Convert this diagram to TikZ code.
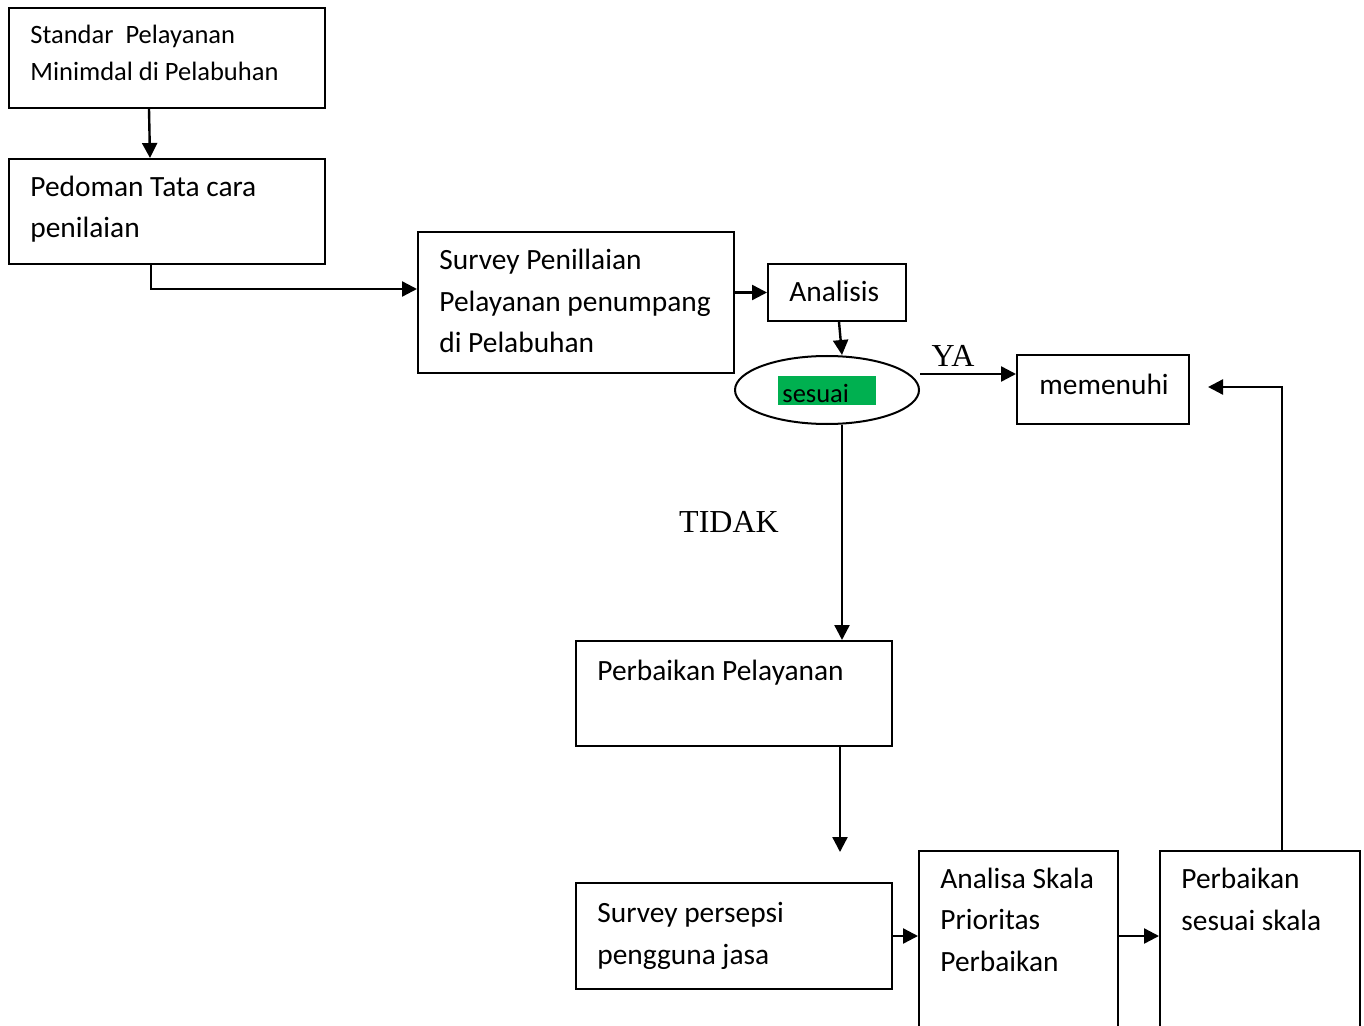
\documentclass[tikz,border=0pt]{standalone}
\usepackage{fontspec}
\setmainfont{Carlito}
\newfontfamily\timesf{Liberation Serif}
\usetikzlibrary{arrows.meta,shapes.geometric}
\definecolor{hl}{HTML}{00B050}
\tikzset{
  box/.style={draw, line width=1pt, inner sep=0pt},
  arr/.style={line width=1.2pt, -{Triangle[length=7.5pt,width=7.5pt]}},
  txt/.style={anchor=base west, align=left, inner sep=0pt, font=\fontsize{14.7}{20.75}\selectfont},
  txtsmall/.style={anchor=base west, align=left, inner sep=0pt, font=\fontsize{13.25}{18.5}\selectfont},
  lbl/.style={inner sep=0pt, font=\timesf\fontsize{16}{18}\selectfont}
}
\begin{document}
\begin{tikzpicture}[x=0.5pt,y=-0.5pt]
\useasboundingbox (0,0) rectangle (1364,1026);
\clip (0,0) rectangle (1364,1026);
% boxes
\node[box, minimum width=158pt, minimum height=50pt] (A) at (167,58) {};
\node[box, minimum width=158pt, minimum height=52.5pt] (B) at (167,211.5) {};
\node[box, minimum width=158pt, minimum height=70.5pt] (C) at (576,302.5) {};
\node[box, minimum width=69pt, minimum height=28.5pt] (D) at (837,292.5) {};
\node[box, ellipse, minimum width=92pt, minimum height=34pt] (E) at (827,390) {};
\node[box, minimum width=86pt, minimum height=34.5pt] (F) at (1103,389.5) {};
\node[box, minimum width=158pt, minimum height=52.5pt] (G) at (734,693.5) {};
\node[box, minimum width=158pt, minimum height=53pt] (H) at (734,936) {};
\node[box, minimum width=99.5pt, minimum height=94.5pt] (I) at (1018.5,945.5) {};
\node[box, minimum width=100pt, minimum height=94.5pt] (J) at (1260,945.5) {};
% texts (base anchor = baseline of last line)
\node[txtsmall] (tA) at (30,81) {Standar\ \ Pelayanan\\Minimdal di Pelabuhan};
\node[txt] (tB) at (30,238) {Pedoman Tata cara\\penilaian};
\node[txt] (tC) at (439,353) {Survey Penillaian\\Pelayanan penumpang\\di Pelabuhan};
\node[txt] (tD) at (789,302) {Analisis};
\node[fill=hl, anchor=north west, inner sep=0pt, minimum width=49pt, minimum height=14.5pt] (hlbox) at (778,376) {};
\node[txtsmall] (tE) at (782,402) {sesuai};
\node[txt] (tF) at (1039,394) {memenuhi};
\node[txt] (tG) at (597,680) {Perbaikan Pelayanan};
\node[txt] (tH) at (597,964) {Survey persepsi\\pengguna jasa};
\node[txt] (tI) at (940,971) {Analisa Skala\\Prioritas\\Perbaikan};
\node[txt] (tJ) at (1181,930) {Perbaikan\\sesuai skala};
\node[lbl] (ya) at (953,356) {YA};
\node[lbl] (tidak) at (729,522) {TIDAK};
% connectors
\draw[arr] ([xshift=-9pt]A.south) -- ([xshift=-8.5pt]B.north);
\draw[arr] ([xshift=-8pt]B.south) |- ([yshift=6.75pt]C.west);
\draw[arr] (C.east |- D.west) -- (D.west);
\draw[arr] ([xshift=1pt]D.south) -- ([xshift=7.5pt]E.north);
\coordinate (ys) at ([yshift=8pt]E.east);
\draw[arr] (ys) -- (ys -| F.west);
\coordinate (es) at ([xshift=7.5pt]E.south);
\draw[arr] (es) -- (es |- G.north);
\coordinate (gend) at (840,852);
\draw[arr] (gend |- G.south) -- (gend);
\draw[arr] (H.east) -- (H.east -| I.west);
\draw[arr] (H.east -| I.east) -- (H.east -| J.west);
\coordinate (fb) at (1208,387);
\draw[arr] ([xshift=11pt]J.north) |- (fb);
\end{tikzpicture}
\end{document}
